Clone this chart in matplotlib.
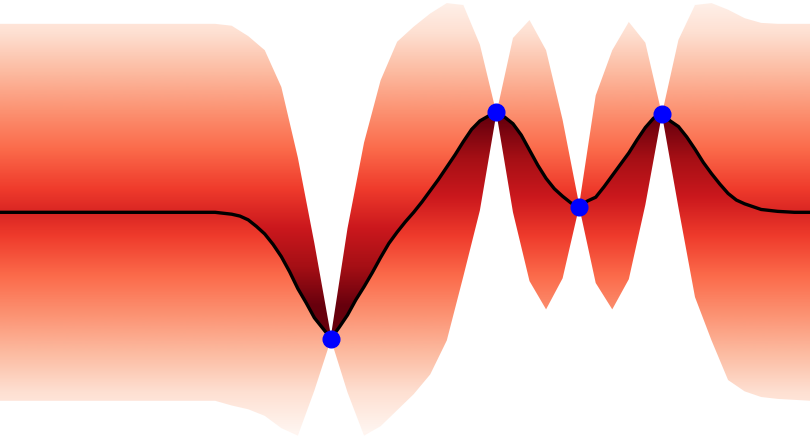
import numpy as np
import matplotlib
matplotlib.use("Agg")
import matplotlib.pyplot as plt
from matplotlib.path import Path
from matplotlib.patches import PathPatch

# coarse grid on which the uncertainty envelope was evaluated
x_grid = [0.0, 0.2, 0.4, 0.6, 0.8, 1.0, 1.2, 1.4, 1.6, 1.8,
          2.0, 2.2, 2.4, 2.6, 2.8, 3.0, 3.2, 3.4, 3.6, 3.8,
          4.0, 4.2, 4.4, 4.6, 4.8, 5.0, 5.2, 5.4, 5.6, 5.8,
          6.0, 6.2, 6.4, 6.6, 6.8, 7.0, 7.2, 7.4, 7.6, 7.8,
          8.0, 8.2, 8.4, 8.6, 8.8, 9.0, 9.2, 9.4, 9.6, 9.8]
upper_edge = [2.00, 2.00, 2.00, 2.00, 2.00, 2.00, 2.00, 2.00, 2.00, 2.00,
              2.00, 2.00, 2.00, 2.00, 1.98, 1.87, 1.72, 1.33, 0.58, -0.33,
              -1.31, -0.17, 0.74, 1.40, 1.81, 1.97, 2.11, 2.22, 2.20, 1.78,
              1.05, 1.85, 2.04, 1.72, 0.98, 0.08, 1.24, 1.72, 2.02, 1.80,
              1.04, 1.83, 2.20, 2.22, 2.15, 2.06, 2.01, 2.00, 2.00, 2.00]
lower_edge = [-2.00, -2.00, -2.00, -2.00, -2.00, -2.00, -2.00, -2.00, -2.00, -2.00,
              -2.00, -2.00, -2.00, -2.00, -2.05, -2.09, -2.16, -2.29, -2.37, -1.89,
              -1.35, -1.91, -2.37, -2.27, -2.10, -1.93, -1.72, -1.36, -0.68, 0.02,
              1.05, 0.00, -0.73, -1.03, -0.70, 0.06, -0.75, -1.03, -0.71, 0.08,
              1.04, 0.05, -0.90, -1.36, -1.78, -1.90, -1.96, -1.98, -1.99, -2.00]

# posterior mean (finer sampling)
mean_x = [0.0, 1.0, 2.0, 2.4, 2.6, 2.8, 2.9, 3.0, 3.1, 3.2, 3.3, 3.4, 3.5, 3.6,
          3.7, 3.8, 3.9, 4.0, 4.1, 4.2, 4.3, 4.4, 4.5, 4.6, 4.7, 4.8, 4.9, 5.0,
          5.1, 5.2, 5.3, 5.4, 5.5, 5.6, 5.7, 5.8, 5.9, 6.0, 6.1, 6.2, 6.3, 6.4,
          6.5, 6.6, 6.7, 6.8, 6.9, 7.0, 7.1, 7.2, 7.3, 7.4, 7.5, 7.6, 7.7, 7.8,
          7.9, 8.0, 8.1, 8.2, 8.3, 8.4, 8.5, 8.6, 8.7, 8.8, 8.9, 9.0, 9.2, 9.4,
          9.6, 9.8]
mean_y = [0.00, 0.00, 0.00, 0.00, 0.00, -0.02, -0.04, -0.08, -0.15, -0.23, -0.34, -0.47, -0.63, -0.81,
          -0.96, -1.12, -1.23, -1.34, -1.22, -1.09, -0.93, -0.79, -0.64, -0.48, -0.33, -0.21, -0.10, 0.00,
          0.11, 0.23, 0.35, 0.48, 0.61, 0.75, 0.88, 0.97, 1.02, 1.06, 1.01, 0.94, 0.82, 0.66,
          0.50, 0.36, 0.25, 0.17, 0.10, 0.06, 0.12, 0.16, 0.27, 0.39, 0.51, 0.63, 0.77, 0.90,
          1.00, 1.04, 0.97, 0.91, 0.80, 0.67, 0.53, 0.41, 0.30, 0.20, 0.13, 0.09, 0.03, 0.01,
          0.00, 0.00]

# observations
obs_x = [4.0, 6.0, 7.0, 8.0]
obs_y = [-1.34, 1.06, 0.06, 1.04]

XLIM = (0.0, 9.79)
YLIM = (-2.395, 2.253)

fig = plt.figure(figsize=(8.1, 4.38), dpi=100)
ax = fig.add_axes([0, 0, 1, 1])
ax.set_xlim(*XLIM)
ax.set_ylim(*YLIM)
ax.axis("off")

cmap = plt.get_cmap("Reds")
yy = np.linspace(YLIM[0], YLIM[1], 600)[:, None]


def band(edge, direction):
    # polygon between an envelope edge and the mean line
    verts = list(zip(x_grid, edge)) + list(zip(mean_x[::-1], mean_y[::-1]))
    verts.append(verts[0])
    patch = PathPatch(Path(verts), facecolor="none", edgecolor="none")
    ax.add_patch(patch)
    # colour depends on height only: dark towards / beyond the mean level
    val = np.clip(0.70 - direction * 0.30 * yy, 0, 1)
    img = cmap(val)
    im = ax.imshow(img, extent=(XLIM[0], XLIM[1], YLIM[0], YLIM[1]),
                   origin="lower", aspect="auto", interpolation="bilinear",
                   zorder=1)
    im.set_clip_path(patch)


band(upper_edge, 1)
band(lower_edge, -1)

ax.plot(mean_x, mean_y, color="black", linewidth=2.4, zorder=3,
        solid_capstyle="round")
ax.plot(obs_x, obs_y, "o", color="blue", markersize=12, zorder=4)

fig.savefig("out.png", dpi=100)
